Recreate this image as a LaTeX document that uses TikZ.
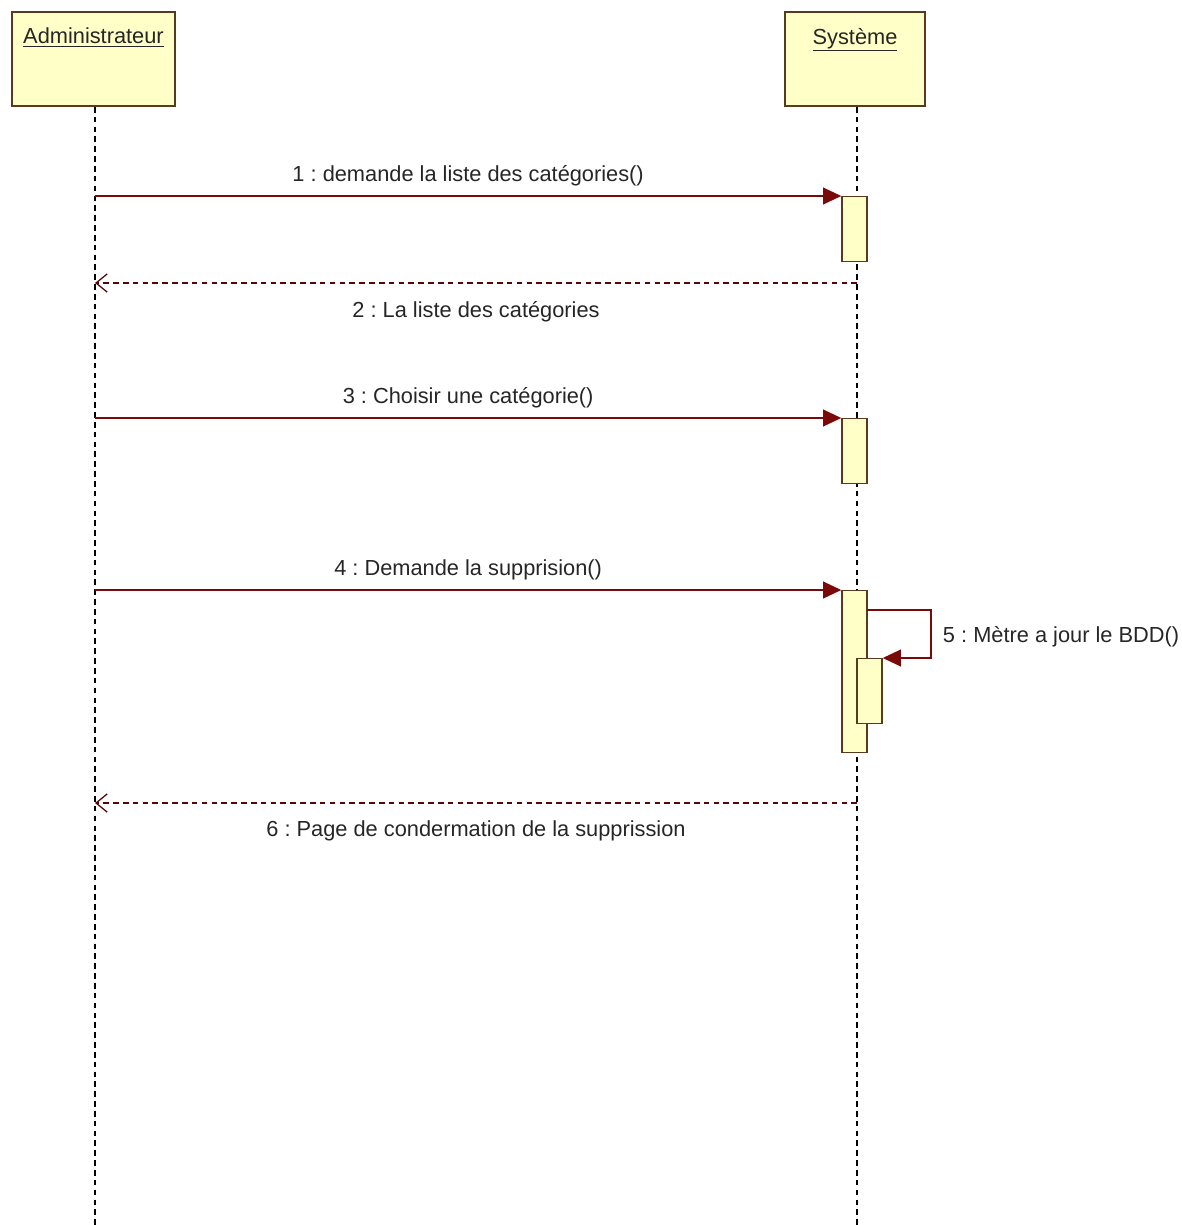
\documentclass[tikz,border=0pt]{standalone}
\usepackage{fontspec}
\setmainfont{Liberation Sans}
\usetikzlibrary{arrows.meta,positioning}
\frenchspacing

\definecolor{boxfill}{HTML}{FFFFC8}
\definecolor{boxline}{HTML}{5A3A1E}
\definecolor{msgline}{HTML}{7A0A0A}

\tikzset{
  objbox/.style={draw=boxline,fill=boxfill,line width=1.3pt,minimum width=4.075cm,minimum height=2.35cm},
  objname/.style={font=\fontsize{15.5}{18}\selectfont,text=black!85,inner sep=0pt},
  act/.style={draw=boxline,fill=boxfill,line width=1pt,minimum width=0.625cm,minimum height=#1,inner sep=0pt,anchor=north},
  lifeline/.style={black,dash pattern=on 4pt off 3pt,line width=1pt},
  msg/.style={msgline,line width=1pt,-{Triangle[length=13pt,width=12pt]}},
  ret/.style={msgline!70!black,line width=0.9pt,dash pattern=on 4pt off 3pt,-{Straight Barb[length=8pt,width=13pt]}},
  msglabel/.style={font=\fontsize{15.5}{18}\selectfont,text=black!85}
}

\begin{document}
\begin{tikzpicture}[x=0.025cm,y=-0.025cm]
\useasboundingbox (0,0) rectangle (1182,1225);

% objects
\node[objbox] (admin) at (93.5,59) {};
\node[objbox,minimum width=3.5cm] (sys) at (855,59) {};
\node[objname,below=0.42cm of admin.north] (adminname) {\underline{Administrateur}};
\node[objname,below=0.42cm of sys.north] (sysname) {\underline{Système}};

% lifelines
\coordinate (adminend) at (95,1225);
\coordinate (sysend) at (857,1225);
\draw[lifeline] (admin.south -| adminend) -- (adminend);
\draw[lifeline] (sys.south -| sysend) -- (sysend);

% activations
\node[act=1.625cm] (act1) at (854.5,196) {};
\node[act=1.625cm] (act2) at (854.5,418) {};
\node[act=4.05cm] (act3) at (854.5,590) {};
\node[act=1.625cm,minimum width=0.625cm] (act4) at (869.5,658) {};

% messages
\coordinate (m1) at (95,196);
\coordinate (m2s) at (857,283);
\coordinate (m2e) at (95,283);
\coordinate (m3) at (95,418);
\coordinate (m4) at (95,590);
\coordinate (m5) at (867,610);
\coordinate (m6s) at (857,803);
\coordinate (m6e) at (95,803);

\draw[msg] (m1) -- node[msglabel,above=3pt] (l1) {1 : demande la liste des catégories()} (act1.north west);
\draw[ret] (m2s) -- node[msglabel,below=9pt] (l2) {2 : La liste des catégories} (m2e);
\draw[msg] (m3) -- node[msglabel,above=3pt] (l3) {3 : Choisir une catégorie()} (act2.north west);
\draw[msg] (m4) -- node[msglabel,above=3pt] (l4) {4 : Demande la supprision()} (act3.north west);
\draw[msg] (m5) -- ++(64,0) |- (act4.north east);
\node[msglabel,anchor=west] (l5) at (938,637) {5 : Mètre a jour le BDD()};
\draw[ret] (m6s) -- node[msglabel,below=9pt] (l6) {6 : Page de condermation de la supprission} (m6e);

\end{tikzpicture}
\end{document}
